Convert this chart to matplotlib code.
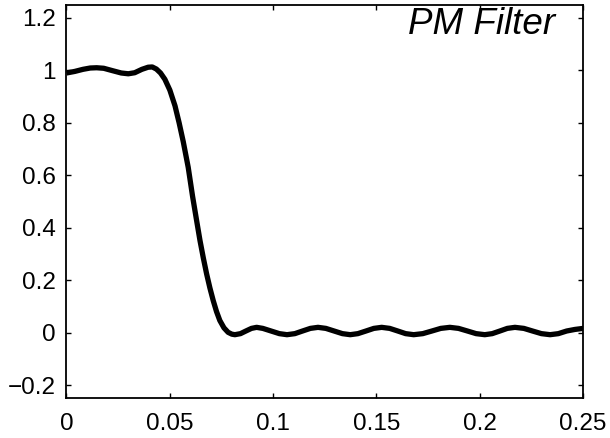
import matplotlib
matplotlib.use("Agg")
import matplotlib.pyplot as plt

# frequency response (normalised frequency, amplitude)
freq = [0.0000, 0.0040, 0.0080, 0.0115, 0.0146, 0.0180, 0.0222, 0.0265, 0.0299,
        0.0330, 0.0365, 0.0395, 0.0415, 0.0435, 0.0455, 0.0476, 0.0500, 0.0525,
        0.0545, 0.0565, 0.0589, 0.0610, 0.0628, 0.0646, 0.0662, 0.0678, 0.0694,
        0.0710, 0.0726, 0.0742, 0.0762, 0.0782, 0.0800, 0.0815, 0.0842, 0.0868,
        0.0895, 0.0920, 0.0950, 0.0990, 0.1030, 0.1067, 0.1105, 0.1142, 0.1180,
        0.1217, 0.1255, 0.1295, 0.1335, 0.1373, 0.1410, 0.1449, 0.1487, 0.1525,
        0.1564, 0.1603, 0.1641, 0.1680, 0.1724, 0.1768, 0.1811, 0.1855, 0.1897,
        0.1940, 0.1982, 0.2024, 0.2060, 0.2097, 0.2133, 0.2170, 0.2213, 0.2255,
        0.2298, 0.2340, 0.2380, 0.2420, 0.2460, 0.2500]
amp = [0.990, 0.996, 1.004, 1.009, 1.010, 1.008, 0.999, 0.990, 0.987,
       0.991, 1.004, 1.012, 1.013, 1.005, 0.990, 0.966, 0.925, 0.865,
       0.800, 0.728, 0.630, 0.520, 0.435, 0.351, 0.285, 0.224, 0.170,
       0.122, 0.080, 0.046, 0.018, 0.001, -0.006, -0.008, -0.004, 0.006,
       0.016, 0.020, 0.016, 0.006, -0.004, -0.008, -0.004, 0.006, 0.016,
       0.020, 0.016, 0.006, -0.004, -0.008, -0.004, 0.006, 0.016, 0.020,
       0.016, 0.006, -0.004, -0.008, -0.004, 0.006, 0.016, 0.020, 0.016,
       0.006, -0.004, -0.008, -0.004, 0.006, 0.016, 0.020, 0.016, 0.006,
       -0.004, -0.008, -0.004, 0.006, 0.012, 0.016]

xticks = [0, 0.05, 0.1, 0.15, 0.2, 0.25]
xlabels = ["0", "0.05", "0.1", "0.15", "0.2", "0.25"]
yticks = [-0.2, 0, 0.2, 0.4, 0.6, 0.8, 1.0, 1.2]
ylabels = ["\u22120.2", "0", "0.2", "0.4", "0.6", "0.8", "1", "1.2"]

plt.rcParams["font.family"] = ["Liberation Sans", "DejaVu Sans"]

fig = plt.figure(figsize=(6.1, 4.38), dpi=100)
ax = fig.add_axes([0.109, 0.091, 0.847, 0.898])

ax.plot(freq, amp, color="black", lw=3.8, solid_capstyle="butt",
        solid_joinstyle="round")

ax.set_xlim(0, 0.25)
ax.set_ylim(-0.25, 1.25)
ax.set_xticks(xticks)
ax.set_xticklabels(xlabels)
ax.set_yticks(yticks)
ax.set_yticklabels(ylabels)
ax.tick_params(direction="in", length=3.5, width=1, top=True, right=True,
               labelsize=17.5, colors="black")
ax.tick_params(axis="x", pad=11)
ax.tick_params(axis="y", pad=8)
for s in ax.spines.values():
    s.set_linewidth(1.3)

ax.text(0.946, 0.925, "PM Filter", transform=ax.transAxes, ha="right",
        va="baseline", fontsize=26.5, style="italic")

fig.savefig("out.png", dpi=100)
